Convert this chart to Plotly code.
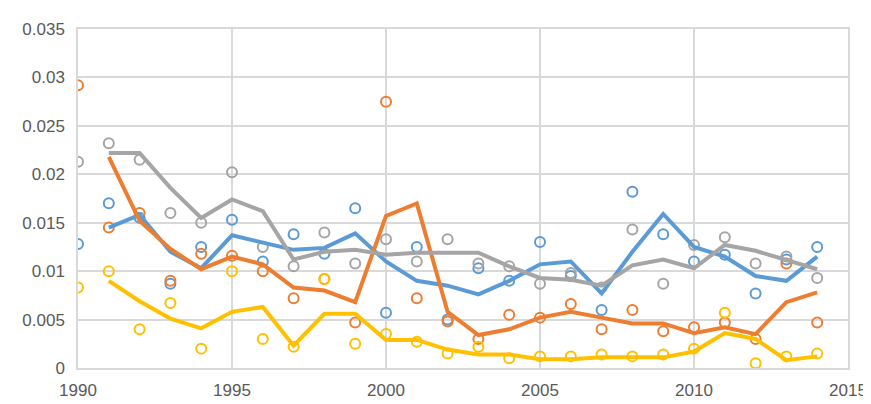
import plotly.graph_objects as go

years = list(range(1990, 2015))
line_years = list(range(1991, 2015))

blue_pts = [.0128, .017, .0155, .0087, .0125, .0153, .011, .0138, .0118, .0165, .0057, .0125, .005,
            .0103, .009, .013, .0095, .006, .0182, .0138, .011, .0117, .0077, .0112, .0125]
blue_line = [.0145, .0158, .012, .0103, .0137, .013, .0122, .0124, .0139, .011, .009, .0085,
             .0076, .009, .0107, .011, .0077, .012, .0159, .0125, .0115, .0095, .009, .0115]

orange_pts = [.0292, .0145, .016, .009, .0118, .0116, .01, .0072, .0092, .0047, .0275, .0072, .0048,
              .003, .0055, .0052, .0066, .004, .006, .0038, .0042, .0047, .003, .0108, .0047]
orange_line = [.0218, .0152, .0123, .0102, .0115, .0107, .0083, .008, .0068, .0157, .017, .0058,
               .0034, .004, .0052, .0058, .0052, .0046, .0046, .0036, .0042, .0035, .0068, .0078]

gray_pts = [.0213, .0232, .0215, .016, .015, .0202, .0125, .0105, .014, .0108, .0133, .011, .0133,
            .0108, .0105, .0087, .0098, .0083, .0143, .0087, .0127, .0135, .0108, .0115, .0093]
gray_line = [.0222, .0222, .0186, .0155, .0174, .0162, .0112, .012, .0122, .0117, .0119, .0119,
             .0119, .0105, .0093, .0091, .0085, .0106, .0112, .0103, .0127, .0121, .0112, .0102]

yellow_pts = [.0083, .01, .004, .0067, .002, .01, .003, .0022, .0092, .0025, .0035, .0027, .0015,
              .0022, .001, .0012, .0012, .0014, .0012, .0014, .002, .0057, .0005, .0012, .0015]
yellow_line = [.009, .0069, .0051, .0041, .0058, .0063, .0023, .0056, .0056, .0029, .0029, .0019,
               .0014, .0014, .0009, .0009, .0011, .0011, .0011, .0017, .0036, .003, .0008, .0012]

series = [
    ("#5b9bd5", blue_pts, blue_line),
    ("#ed7d31", orange_pts, orange_line),
    ("#a5a5a5", gray_pts, gray_line),
    ("#ffc000", yellow_pts, yellow_line),
]

fig = go.Figure()
for color, pts, ln in series:
    fig.add_trace(go.Scatter(x=years, y=pts, mode="markers",
                             marker=dict(symbol="circle-open", size=10, color=color, line=dict(width=2))))
for color, pts, ln in series:
    fig.add_trace(go.Scatter(x=line_years, y=ln, mode="lines", line=dict(color=color, width=4)))

yt = [0, 0.005, 0.01, 0.015, 0.02, 0.025, 0.03, 0.035]
fig.update_layout(
    width=871, height=404, showlegend=False,
    paper_bgcolor="white", plot_bgcolor="white",
    margin=dict(l=70, r=21, t=12, b=38),
    font=dict(family="Liberation Sans, Arial", size=17, color="#595959"),
)
fig.update_xaxes(range=[1990, 2015], tickvals=[1990, 1995, 2000, 2005, 2010, 2015],
                 showgrid=True, gridcolor="#d9d9d9", gridwidth=1.5, ticklabelstandoff=6,
                 showline=True, linecolor="#d9d9d9", linewidth=1.5, mirror=True, zeroline=False)
fig.update_yaxes(range=[0, 0.035], tickvals=yt, ticktext=["0", "0.005", "0.01", "0.015", "0.02", "0.025", "0.03", "0.035"],
                 showgrid=True, gridcolor="#d9d9d9", gridwidth=1.5, ticklabelstandoff=8,
                 showline=True, linecolor="#d9d9d9", linewidth=1.5, mirror=True, zeroline=False)

fig.write_html("out.html")
